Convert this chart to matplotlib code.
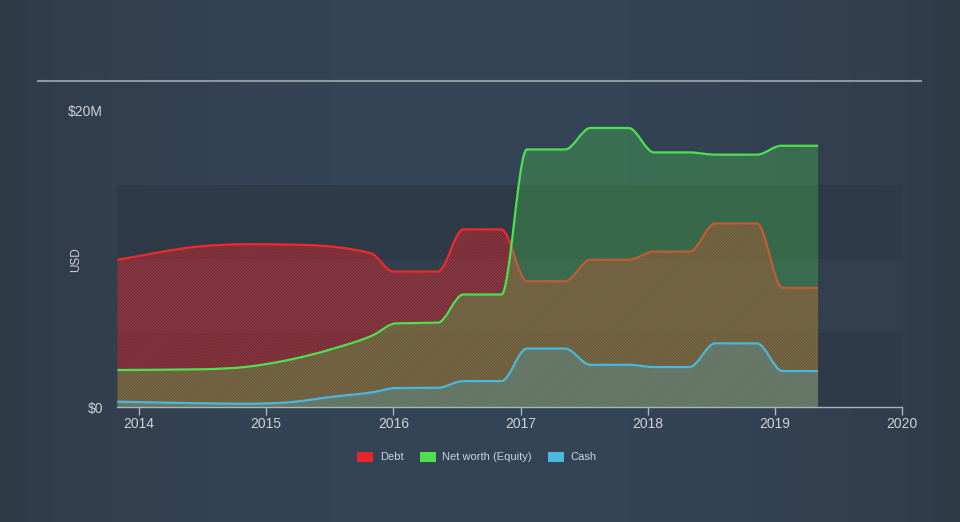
import numpy as np
import matplotlib.pyplot as plt
from matplotlib.path import Path
from matplotlib.patches import PathPatch, Patch
from matplotlib.lines import Line2D

# values, in $M
debt_x = [2013.83, 2014.48, 2014.85, 2015.3, 2015.82, 2016.0, 2016.35, 2016.55, 2016.85,
          2017.05, 2017.35, 2017.55, 2017.85, 2018.05, 2018.33, 2018.53, 2018.86, 2019.06, 2019.34]
debt_y = [9.95, 10.85, 11.0, 10.95, 10.4, 9.15, 9.15, 12.0, 12.0,
          8.5, 8.5, 9.95, 9.95, 10.5, 10.5, 12.4, 12.4, 8.05, 8.05]

equity_x = [2013.83, 2014.5, 2014.85, 2015.1, 2015.53, 2015.84, 2016.02, 2016.35, 2016.55, 2016.85,
            2017.05, 2017.35, 2017.55, 2017.85, 2018.05, 2018.33, 2018.53, 2018.86, 2019.05, 2019.34]
equity_y = [2.5, 2.55, 2.72, 3.05, 3.95, 4.85, 5.65, 5.7, 7.6, 7.6,
            17.4, 17.4, 18.85, 18.85, 17.2, 17.2, 17.05, 17.05, 17.65, 17.65]

cash_x = [2013.83, 2014.5, 2014.85, 2015.15, 2015.53, 2015.84, 2016.02, 2016.35, 2016.55, 2016.85,
          2017.05, 2017.35, 2017.55, 2017.85, 2018.05, 2018.33, 2018.53, 2018.86, 2019.06, 2019.34]
cash_y = [0.36, 0.25, 0.22, 0.3, 0.7, 1.0, 1.28, 1.3, 1.75, 1.75,
          3.95, 3.95, 2.85, 2.85, 2.7, 2.7, 4.3, 4.3, 2.43, 2.43]

years = [2014, 2015, 2016, 2017, 2018, 2019, 2020]
legend_labels = ["Debt", "Net worth (Equity)", "Cash"]

RED = "#e8262a"
GREEN = "#4fe04f"
BLUE = "#4ab8dc"
TXT = "#cdd2d7"


def monotone_path(xs, ys):
    # cubic bezier segments with monotone (Fritsch-Carlson) tangents
    xs = np.asarray(xs, float)
    ys = np.asarray(ys, float)
    h = np.diff(xs)
    s = np.diff(ys) / h
    t = np.zeros(len(xs))
    t[0], t[-1] = s[0], s[-1]
    for i in range(1, len(xs) - 1):
        if s[i - 1] * s[i] <= 0:
            t[i] = 0.0
        else:
            p = (s[i - 1] * h[i] + s[i] * h[i - 1]) / (h[i - 1] + h[i])
            t[i] = (np.sign(s[i - 1]) + np.sign(s[i])) * min(abs(s[i - 1]), abs(s[i]), 0.5 * abs(p))
    verts = [(xs[0], ys[0])]
    codes = [Path.MOVETO]
    for i in range(len(xs) - 1):
        d = h[i] / 3
        verts += [(xs[i] + d, ys[i] + t[i] * d), (xs[i + 1] - d, ys[i + 1] - t[i + 1] * d), (xs[i + 1], ys[i + 1])]
        codes += [Path.CURVE4] * 3
    return verts, codes


def area_path(xs, ys):
    verts, codes = monotone_path(xs, ys)
    verts = verts + [(xs[-1], 0), (xs[0], 0), (xs[0], 0)]
    codes = codes + [Path.LINETO, Path.LINETO, Path.CLOSEPOLY]
    return Path(verts, codes)


plt.rcParams['font.family'] = ['Liberation Sans', 'DejaVu Sans']
plt.rcParams['hatch.linewidth'] = 1.1

fig = plt.figure(figsize=(9.6, 5.22), dpi=100)
fig.patch.set_facecolor("#333f4f")

# soft horizontal gradient for the background
bg = fig.add_axes([0, 0, 1, 1], zorder=-10)
gx = np.linspace(-1, 1, 256)
g = 1 - gx ** 2
c0 = np.array([0x30, 0x3b, 0x48]) / 255
c1 = np.array([0x34, 0x45, 0x58]) / 255
img = c0[None, :] + g[:, None] * (c1 - c0)[None, :]
bg.imshow(img[None, :, :], aspect="auto", extent=[0, 1, 0, 1])
bg.axis("off")

# separator line at the top
fig.add_artist(Line2D([0.0396, 0.959], [0.845, 0.845], color="#8e98a2", lw=1.5))

ax = fig.add_axes([0.1219, 0.2203, 0.8177, 0.5671])
ax.set_facecolor("none")
ax.set_xlim(2013.827, 2020.0)
ax.set_ylim(0, 20)

# background bands
ax.axhspan(0, 5, color="#2e3a48", zorder=0, lw=0)
ax.axhspan(5, 10, color="#323f4e", zorder=0, lw=0)
ax.axhspan(10, 15, color="#2e3a48", zorder=0, lw=0)

# debt: hatched red area
ax.add_patch(PathPatch(area_path(debt_x, debt_y), facecolor="none", edgecolor=RED,
                       hatch="/" * 11, lw=0, alpha=0.6, zorder=1))
v, c = monotone_path(debt_x, debt_y)
ax.add_patch(PathPatch(Path(v, c), facecolor="none", edgecolor="#ee2a2a", lw=1.6, zorder=2))

# net worth: translucent green area
ax.add_patch(PathPatch(area_path(equity_x, equity_y), facecolor=GREEN, edgecolor="none",
                       alpha=0.28, zorder=3))
v, c = monotone_path(equity_x, equity_y)
ax.add_patch(PathPatch(Path(v, c), facecolor="none", edgecolor=GREEN, lw=1.6, zorder=4))

# cash: translucent blue area
ax.add_patch(PathPatch(area_path(cash_x, cash_y), facecolor=BLUE, edgecolor="none",
                       alpha=0.25, zorder=5))
v, c = monotone_path(cash_x, cash_y)
ax.add_patch(PathPatch(Path(v, c), facecolor="none", edgecolor=BLUE, lw=1.6, zorder=6))

for side in ["top", "left", "right"]:
    ax.spines[side].set_visible(False)
ax.spines["bottom"].set_color("#aab3bd")
ax.spines["bottom"].set_linewidth(1.0)

ax.set_xticks(years)
ax.set_xticklabels([str(y) for y in years])
ax.tick_params(axis="x", colors="#aab3bd", length=6, width=1, pad=1, labelsize=10, labelcolor=TXT)
ax.set_yticks([0, 20])
ax.set_yticklabels(["$0", "$20M"])
ax.tick_params(axis="y", length=0, pad=10, labelsize=10, labelcolor=TXT)

fig.text(0.079, 0.502, "USD", rotation=90, ha="center", va="center", color=TXT, fontsize=8.5)

handles = [Patch(facecolor=RED), Patch(facecolor=GREEN), Patch(facecolor=BLUE)]
fig.legend(handles, legend_labels, loc="center", bbox_to_anchor=(0.497, 0.1245), ncol=3,
           frameon=False, fontsize=8, labelcolor=TXT, handlelength=1.4, handleheight=1.0,
           handletextpad=0.6, columnspacing=1.5)

fig.savefig("out.png", dpi=100, facecolor=fig.get_facecolor())
